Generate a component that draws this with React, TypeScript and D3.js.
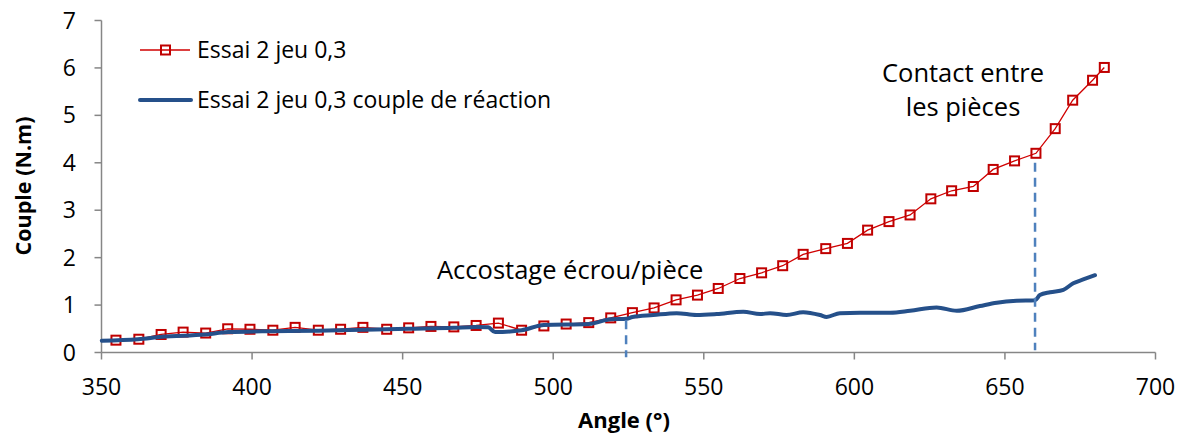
import React from 'react';
import * as d3 from 'd3';

// Essai 2 jeu 0,3 (red, square markers)
const essaiAngle = [354.8, 362.4, 369.8, 377.1, 384.6, 391.9, 399.3, 406.9, 414.3, 422.0, 429.4, 436.8, 444.7, 452.0, 459.4, 467.0, 474.4, 481.8, 489.5, 496.9, 504.3, 511.8, 519.1, 526.3, 533.5, 540.8, 547.9, 554.8, 562.0, 569.2, 576.2, 583.0, 590.5, 597.7, 604.4, 611.5, 618.5, 625.4, 632.3, 639.5, 646.1, 653.2, 660.3, 666.7, 672.5, 679.1, 683.0];
const essaiCouple = [0.26, 0.28, 0.38, 0.43, 0.41, 0.50, 0.49, 0.47, 0.53, 0.47, 0.49, 0.53, 0.49, 0.52, 0.55, 0.54, 0.57, 0.62, 0.47, 0.56, 0.60, 0.63, 0.73, 0.84, 0.94, 1.11, 1.21, 1.35, 1.56, 1.68, 1.83, 2.07, 2.19, 2.30, 2.58, 2.76, 2.90, 3.24, 3.41, 3.50, 3.86, 4.04, 4.20, 4.72, 5.32, 5.74, 6.01];

// Essai 2 jeu 0,3 couple de réaction (blue line)
const reactionAngle = [350.1, 362.1, 370.0, 384.4, 392.1, 406.5, 421.9, 437.5, 452.0, 467.0, 474.4, 478.4, 480.7, 489.5, 496.9, 511.8, 519.1, 524.4, 526.3, 533.2, 541.0, 547.6, 554.3, 563.1, 568.7, 572.0, 577.5, 583.0, 588.6, 590.8, 595.2, 601.9, 611.9, 618.5, 627.3, 634.0, 641.7, 647.3, 653.9, 660.0, 661.6, 665.0, 669.4, 672.7, 676.0, 679.9];
const reactionCouple = [0.25, 0.28, 0.33, 0.38, 0.43, 0.45, 0.46, 0.48, 0.50, 0.52, 0.54, 0.53, 0.43, 0.47, 0.58, 0.60, 0.70, 0.71, 0.75, 0.79, 0.83, 0.79, 0.81, 0.86, 0.81, 0.83, 0.79, 0.85, 0.79, 0.75, 0.83, 0.84, 0.84, 0.88, 0.95, 0.88, 0.98, 1.05, 1.09, 1.10, 1.21, 1.27, 1.32, 1.46, 1.54, 1.63];

const angleTicks = [350, 400, 450, 500, 550, 600, 650, 700];
const coupleTicks = [0, 1, 2, 3, 4, 5, 6, 7];

// annotations: angle of dashed marker, top / bottom couple
const accostage = { angle: 524.2, top: 0.68, bottom: -0.1 };
const contact = { angle: 660.0, top: 4.0, bottom: 0.05 };

const W = 1181;
const H = 435;
const FONT = '"Open Sans", sans-serif';
const AXIS = '#868686';

export default function App() {
  const x = d3.scaleLinear().domain([350, 700]).range([101.5, 1155.5]);
  const y = d3.scaleLinear().domain([0, 7]).range([352.5, 20.5]);

  const essai = essaiAngle.map((a, i) => [a, essaiCouple[i]] as [number, number]);
  const reaction = reactionAngle.map((a, i) => [a, reactionCouple[i]] as [number, number]);

  const line = d3.line<[number, number]>().x(d => x(d[0])).y(d => y(d[1]));
  const reactionPath = d3.line<[number, number]>()
    .x(d => x(d[0]))
    .y(d => y(d[1]))
    .curve(d3.curveMonotoneX)(reaction) || '';

  return (
    <svg width={W} height={H} style={{ position: 'absolute', left: 0, top: 0, background: '#fff' }}
      fontFamily={FONT}>
      {/* axes */}
      <line x1={x(350)} x2={x(350)} y1={y(7)} y2={y(0)} stroke={AXIS} strokeWidth={1.5} />
      <line x1={x(350)} x2={x(700)} y1={y(0)} y2={y(0)} stroke={AXIS} strokeWidth={1.5} />
      {coupleTicks.map(t => (
        <g key={'y' + t}>
          <line x1={x(350) - 7} x2={x(350)} y1={y(t)} y2={y(t)} stroke={AXIS} strokeWidth={1.5} />
          <text x={76} y={y(t)} dy="0.35em" textAnchor="end" fontSize={23} fill="#000">{t}</text>
        </g>
      ))}
      {angleTicks.map(t => (
        <g key={'x' + t}>
          <line x1={x(t)} x2={x(t)} y1={y(0)} y2={y(0) + 7} stroke={AXIS} strokeWidth={1.5} />
          <text x={x(t)} y={395} textAnchor="middle" fontSize={23} fill="#000">{t}</text>
        </g>
      ))}
      <text x={624} y={428} textAnchor="middle" fontSize={22} fontWeight="bold" fill="#000">Angle (°)</text>
      <text transform="translate(31,186) rotate(-90)" textAnchor="middle" fontSize={21.5} fontWeight="bold" fill="#000">Couple (N.m)</text>

      {/* red series */}
      <path d={line(essai) || ''} fill="none" stroke="#d00000" strokeWidth={1.3} />
      {essai.map((d, i) => (
        <rect key={'m' + i} x={x(d[0]) - 4.5} y={y(d[1]) - 4.5} width={9} height={9}
          fill="none" stroke="#c00000" strokeWidth={2} />
      ))}

      {/* blue series */}
      <path d={reactionPath} fill="none" stroke="#25508a" strokeWidth={4} strokeLinejoin="round" strokeLinecap="round" />

      {/* dashed markers */}
      {[accostage, contact].map((m, i) => (
        <line key={'d' + i} x1={x(m.angle)} x2={x(m.angle)} y1={y(m.top)} y2={y(m.bottom)}
          stroke="#4f81bd" strokeWidth={2.5} strokeDasharray="9,6" />
      ))}

      {/* annotations */}
      <text x={437} y={279} fontSize={25.5} fill="#000">Accostage écrou/pièce</text>
      <text x={963} y={82} textAnchor="middle" fontSize={25.5} fill="#000">Contact entre</text>
      <text x={963} y={116} textAnchor="middle" fontSize={25.5} fill="#000">les pièces</text>

      {/* legend */}
      <line x1={140} x2={190} y1={50} y2={50} stroke="#d00000" strokeWidth={1.3} />
      <rect x={161} y={45.5} width={9} height={9} fill="none" stroke="#c00000" strokeWidth={2} />
      <text x={197} y={58} fontSize={23} fill="#000">Essai 2 jeu 0,3</text>
      <line x1={140} x2={191} y1={100} y2={100} stroke="#25508a" strokeWidth={4} strokeLinecap="round" />
      <text x={197} y={108} fontSize={23} fill="#000">Essai 2 jeu 0,3 couple de réaction</text>
    </svg>
  );
}
